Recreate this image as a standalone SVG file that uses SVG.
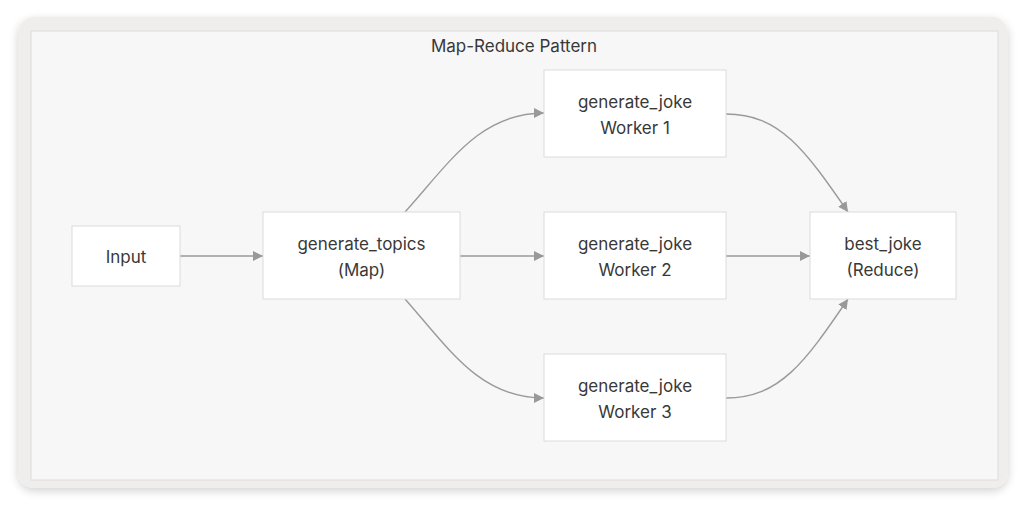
<svg xmlns="http://www.w3.org/2000/svg" width="1026" height="506" viewBox="0 0 1026 506">
<defs>
<filter id="shadow" x="-5%" y="-10%" width="110%" height="120%">
<feGaussianBlur in="SourceAlpha" stdDeviation="5"/>
<feOffset dy="3"/>
<feComponentTransfer><feFuncA type="linear" slope="0.18"/></feComponentTransfer>
<feMerge><feMergeNode/><feMergeNode in="SourceGraphic"/></feMerge>
</filter>
<marker id="arrow" viewBox="0 0 10 10" refX="10" refY="5" markerWidth="10" markerHeight="10" markerUnits="userSpaceOnUse" orient="auto">
<path d="M0,0 L10,5 L0,10 z" fill="#999"/>
</marker>
<style>
.node rect{fill:#ffffff;stroke:#dcdcdc;stroke-width:1}
.node text, .title{font-family:Inter,"Noto Sans","Liberation Sans",sans-serif;font-size:17px;fill:#383838;text-anchor:middle}
.edge{fill:none;stroke:#9a9a9a;stroke-width:1.4;marker-end:url(#arrow)}
</style>
</defs>
<rect width="1026" height="506" fill="#ffffff"/>
<rect x="18" y="17" width="990" height="471" rx="16" fill="#efeeed" filter="url(#shadow)"/>
<g id="cluster">
<rect x="31" y="31" width="967" height="449" fill="#f7f7f7" stroke="#dedcdc" stroke-width="1"/>
<text class="title" x="514" y="52">Map-Reduce Pattern</text>
</g>
<g id="connectors">
<path class="edge" d="M180,256 L263,256"/>
<path class="edge" d="M460,256 L544,256"/>
<path class="edge" d="M405,212 C450,162 480,113 544,113"/>
<path class="edge" d="M405,299 C450,350 480,398 544,398"/>
<path class="edge" d="M726,256 L810,256"/>
<path class="edge" d="M726,114 C780,114 805,150 848,212"/>
<path class="edge" d="M726,398 C780,398 805,362 848,299"/>
</g>
<g id="input" class="node">
<rect x="72" y="226" width="108" height="60"/>
<text x="126" y="263">Input</text>
</g>
<g id="generate_topics" class="node">
<rect x="263" y="212" width="197" height="87"/>
<text x="361.5" y="250">generate_topics</text>
<text x="361.5" y="276">(Map)</text>
</g>
<g id="worker1" class="node">
<rect x="544" y="70" width="182" height="87"/>
<text x="635" y="108">generate_joke</text>
<text x="635" y="134">Worker 1</text>
</g>
<g id="worker2" class="node">
<rect x="544" y="212" width="182" height="87"/>
<text x="635" y="250">generate_joke</text>
<text x="635" y="276">Worker 2</text>
</g>
<g id="worker3" class="node">
<rect x="544" y="354" width="182" height="87"/>
<text x="635" y="392">generate_joke</text>
<text x="635" y="418">Worker 3</text>
</g>
<g id="best_joke" class="node">
<rect x="810" y="212" width="146" height="87"/>
<text x="883" y="250">best_joke</text>
<text x="883" y="276">(Reduce)</text>
</g>
</svg>
